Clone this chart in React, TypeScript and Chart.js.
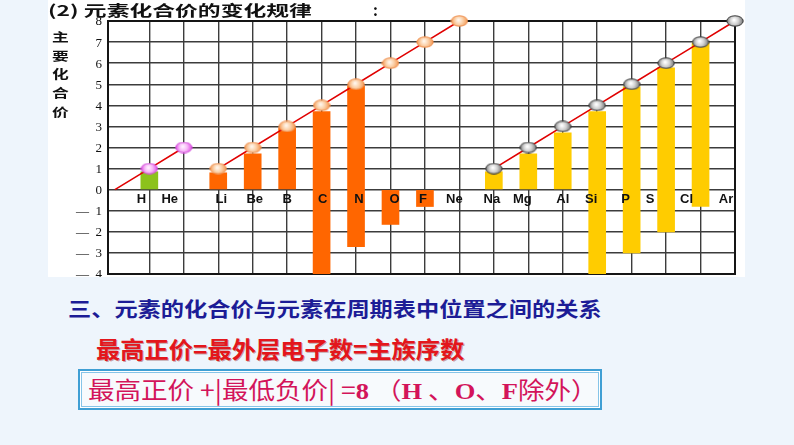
import React, { useEffect, useRef } from 'react';
import { Chart, registerables } from 'chart.js';

Chart.register(...registerables);

// ---------------- data ----------------
const elements = ['H', 'He', 'Li', 'Be', 'B', 'C', 'N', 'O', 'F', 'Ne', 'Na', 'Mg', 'Al', 'Si', 'P', 'S', 'Cl', 'Ar'];
const period = [1, 1, 2, 2, 2, 2, 2, 2, 2, 2, 3, 3, 3, 3, 3, 3, 3, 3];
const highestValence = [1, 2, 1, 2, 3, 4, 5, 6, 7, 8, 1, 2, 3, 4, 5, 6, 7, 8];
const barTop = [0.85, null, 0.8, 1.7, 2.93, 3.7, 4.92, 0, 0, null, 0.85, 1.7, 2.7, 3.7, 4.88, 5.78, 6.96, null];
const barBottom = [0, null, 0, 0, 0, -4, -2.7, -1.65, -0.8, null, 0, 0, 0, -4, -3, -2, -0.8, null];
const hydrogenLeadValence = 0; // the H line starts from 0 one step before H
const yMin = -4;
const yMax = 8;

// ---------------- styles ----------------
const barColors: Record<number, string> = { 1: '#8cc21c', 2: '#ff6600', 3: '#ffcc00' };
const labelNudge = [-8, -14, 3, 2, 0, 1, 3, 4, -2, -5, -2, -6, 0, -6, -6, -16, -14, -9];
const gridColor = '#3c3c3c';

function makeMarker(center: string, mid: string, outer: string, edge: string) {
  const c = document.createElement('canvas');
  c.width = 18;
  c.height = 12;
  const g = c.getContext('2d')!;
  const grad = g.createRadialGradient(8, 5, 0.5, 9, 6, 8.5);
  grad.addColorStop(0, center);
  grad.addColorStop(0.45, mid);
  grad.addColorStop(1, outer);
  g.beginPath();
  g.ellipse(9, 6, 8.2, 5.2, 0, 0, Math.PI * 2);
  g.fillStyle = grad;
  g.fill();
  g.lineWidth = 1;
  g.strokeStyle = edge;
  g.stroke();
  return c;
}

const overlayPlugin = {
  id: 'overlay',
  beforeDatasetsDraw(chart: any) {
    const { ctx, chartArea } = chart;
    ctx.save();
    ctx.strokeStyle = '#151515';
    ctx.lineWidth = 2;
    ctx.strokeRect(chartArea.left, chartArea.top, chartArea.right - chartArea.left, chartArea.bottom - chartArea.top);
    // y tick labels
    const ys = chart.scales.y;
    ctx.font = '13px "Liberation Serif", "DejaVu Serif", serif';
    ctx.fillStyle = '#111';
    ctx.textAlign = 'right';
    ctx.textBaseline = 'middle';
    ys.ticks.forEach((t: any) => {
      const v = Number(t.value);
      const txt = v < 0 ? '—\u2002' + Math.abs(v) : String(v);
      ctx.fillText(txt, chartArea.left - 6, ys.getPixelForValue(v) + 1);
    });
    ctx.restore();
  },
  afterDatasetsDraw(chart: any) {
    const { ctx } = chart;
    const xs = chart.scales.x;
    const ys = chart.scales.y;
    ctx.save();
    ctx.font = 'bold 13px "Liberation Sans", Arial, sans-serif';
    ctx.textAlign = 'center';
    ctx.textBaseline = 'middle';
    ctx.fillStyle = '#111';
    const y0 = ys.getPixelForValue(0) + 10;
    elements.forEach((el, i) => {
      ctx.fillText(el, xs.getPixelForValue(i) + labelNudge[i], y0);
    });
    ctx.restore();
  },
};

function ChartCanvas() {
  const ref = useRef<HTMLCanvasElement | null>(null);
  useEffect(() => {
    if (!ref.current) return;
    const markers: Record<number, HTMLCanvasElement> = {
      1: makeMarker('#fff0ff', '#f7b8f7', '#e040e6', '#d050d8'),
      2: makeMarker('#fff6ec', '#fbd0a8', '#f2924a', '#ee9050'),
      3: makeMarker('#ffffff', '#d0d0d0', '#6e6e6e', '#3a3a3a'),
    };

    const barData = elements
      .map((_, i) => (barTop[i] == null ? null : { x: i, y: [barBottom[i] as number, barTop[i] as number] }))
      .filter((d) => d !== null);

    const lineDatasets = [1, 2, 3].map((p) => {
      const pts: { x: number; y: number }[] = [];
      const idx = elements.map((_, i) => i).filter((i) => period[i] === p);
      if (p === 1) pts.push({ x: idx[0] - 1, y: hydrogenLeadValence });
      idx.forEach((i) => pts.push({ x: i, y: highestValence[i] }));
      return {
        type: 'line' as const,
        data: pts,
        borderColor: '#e00000',
        borderWidth: 1.6,
        pointStyle: markers[p],
        pointRadius: pts.map((pt) => (p === 1 && pt.x < 0 ? 0 : 6)),
        pointHoverRadius: 6,
        clip: false as any,
        order: 1,
        tension: 0,
      };
    });

    const chart = new Chart(ref.current, {
      type: 'bar',
      data: {
        datasets: [
          {
            type: 'bar',
            data: barData as any,
            backgroundColor: (ctx: any) => barColors[period[ctx.raw ? ctx.raw.x : 0]],
            barThickness: 17,
            borderWidth: 0,
            order: 2,
          } as any,
          ...(lineDatasets as any),
        ],
      },
      options: {
        animation: false,
        responsive: false,
        devicePixelRatio: 1,
        layout: { autoPadding: false, padding: { top: 21, right: 10, bottom: 3, left: 0 } },
        plugins: { legend: { display: false }, tooltip: { enabled: false } },
        scales: {
          x: {
            type: 'linear',
            offset: false,
            min: -1.2,
            max: elements.length - 1,
            afterBuildTicks: (s: any) => {
              s.ticks = elements.map((_, i) => ({ value: i }));
            },
            afterFit: (s: any) => {
              s.height = 0;
            },
            ticks: { display: false },
            grid: { color: gridColor, lineWidth: 1.4, drawTicks: false, offset: false },
            border: { display: false },
          },
          y: {
            min: yMin,
            max: yMax,
            afterFit: (s: any) => {
              s.width = 60;
            },
            ticks: { stepSize: 1, display: false },
            grid: { color: gridColor, lineWidth: 1.4, drawTicks: false },
            border: { display: false },
          },
        },
      } as any,
      plugins: [overlayPlugin],
    });
    return () => chart.destroy();
  }, []);
  return <canvas ref={ref} width={697} height={277} style={{ display: 'block', width: 697, height: 277 }} />;
}

const cjk = '"Noto Sans CJK SC", "Noto Sans", sans-serif';
const serif = '"Liberation Serif", "DejaVu Serif", serif';

export default function App() {
  const yTitle = ['主', '要', '化', '合', '价'];
  return (
    <div style={{ position: 'fixed', left: 0, top: 0, width: 794, height: 445, background: '#eef5fc', overflow: 'hidden' }}>
      <div style={{ position: 'absolute', left: 48, top: 0, width: 697, height: 277, background: '#fff' }}>
        <ChartCanvas />
      </div>
      <div
        style={{
          position: 'absolute', left: 48, top: 1, fontFamily: cjk, fontWeight: 700, fontSize: 15, lineHeight: '18px',
          color: '#111', whiteSpace: 'nowrap', transform: 'scaleX(1.52)', transformOrigin: 'left center',
        }}
      >
        (2) 元素化合价的变化规律
      </div>
      <div style={{ position: 'absolute', left: 373, top: 1, fontFamily: cjk, fontWeight: 700, fontSize: 15, lineHeight: '18px', color: '#111' }}>:</div>
      <div style={{ position: 'absolute', left: 52, top: 28, width: 20 }}>
        {yTitle.map((c) => (
          <div
            key={c}
            style={{
              fontFamily: cjk, fontWeight: 700, fontSize: 12, lineHeight: '18.7px', color: '#111',
              transform: 'scaleX(1.4)', transformOrigin: 'left center', whiteSpace: 'nowrap',
            }}
          >
            {c}
          </div>
        ))}
      </div>
      <div
        style={{
          position: 'absolute', left: 68, top: 297, fontFamily: cjk, fontWeight: 700, fontSize: 20, lineHeight: '24px',
          color: '#1c1c96', whiteSpace: 'nowrap', transform: 'scaleX(1.16)', transformOrigin: 'left center',
        }}
      >
        三、元素的化合价与元素在周期表中位置之间的关系
      </div>
      <div
        style={{
          position: 'absolute', left: 96, top: 334, fontFamily: cjk, fontWeight: 700, fontSize: 23, lineHeight: '28px',
          color: '#e3161c', whiteSpace: 'nowrap', transform: 'scaleX(1.055)', transformOrigin: 'left center',
          textShadow: '1px 1px 0 rgba(120,0,0,0.35)',
        }}
      >
        最高正价=最外层电子数=主族序数
      </div>
      <div
        style={{
          position: 'absolute', left: 78, top: 369, width: 524, height: 41, boxSizing: 'border-box',
          border: '2px solid #3f9fd4', background: '#f7fafd', boxShadow: 'inset 0 0 0 1px #ffffff, inset 0 0 0 2px #86c4e8',
        }}
      />
      <div
        style={{
          position: 'absolute', left: 88, top: 375, fontFamily: cjk, fontWeight: 400, fontSize: 24, lineHeight: '28px',
          color: '#d3145a', whiteSpace: 'nowrap', transform: 'scaleX(1.105)', transformOrigin: 'left center',
        }}
      >
        最高正价 +|最低负价| =<span style={{ fontFamily: serif, fontWeight: 700 }}>8</span> （<span style={{ fontFamily: serif, fontWeight: 700 }}>H</span> 、<span style={{ fontFamily: serif, fontWeight: 700 }}>O</span>、<span style={{ fontFamily: serif, fontWeight: 700 }}>F</span>除外）
      </div>
    </div>
  );
}
